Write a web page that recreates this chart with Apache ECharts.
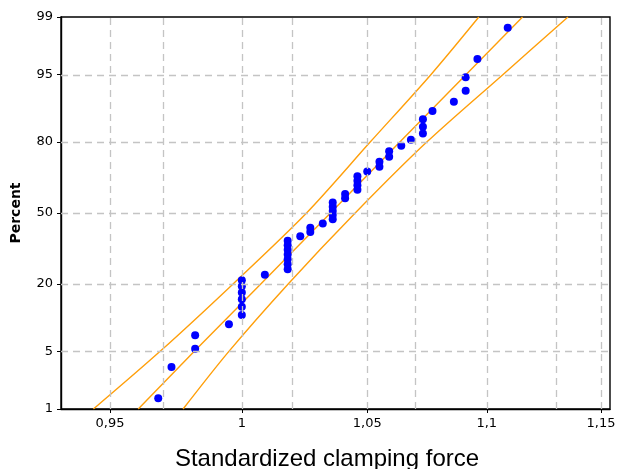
<!DOCTYPE html>
<html>
<head>
<meta charset="utf-8">
<script src="https://cdn.jsdelivr.net/npm/echarts@6/dist/echarts.min.js"></script>
<style>
  html, body { margin: 0; padding: 0; background: #fff; }
  #chart { width: 618px; height: 469px; }
</style>
</head>
<body>
<div id="chart"></div>
<script>
// data
const forceValues = [
  0.968, 0.973, 0.982, 0.982, 0.995,
  1.000, 1.000, 1.000, 1.000, 1.000, 1.000,
  1.009,
  1.018, 1.018, 1.018, 1.018, 1.018, 1.018, 1.018,
  1.023, 1.027, 1.027, 1.032,
  1.036, 1.036, 1.036, 1.036, 1.036,
  1.041, 1.041,
  1.046, 1.046, 1.046, 1.046,
  1.050, 1.055, 1.055, 1.059, 1.059,
  1.064, 1.068, 1.073, 1.073, 1.073,
  1.077, 1.086, 1.091, 1.091, 1.096, 1.109
];
const percentValues = [
  1.39, 3.37, 5.36, 7.34, 9.33,
  11.31, 13.29, 15.28, 17.26, 19.25, 21.23,
  23.21,
  25.20, 27.18, 29.17, 31.15, 33.13, 35.12, 37.10,
  39.09, 41.07, 43.06, 45.04,
  47.02, 49.01, 50.99, 52.98, 54.96,
  56.94, 58.93,
  60.91, 62.90, 64.88, 66.87,
  68.85, 70.83, 72.82, 74.80, 76.79,
  78.77, 80.75, 82.74, 84.72, 86.71,
  88.69, 90.67, 92.66, 94.64, 96.63, 98.61
];

// fitted line and confidence bands (read at the percent gridlines)
const bandPercents = [1, 5, 20, 50, 80, 95, 99];
const fitForce = [0.9605, 0.9816, 1.0074, 1.0351, 1.0634, 1.0912, 1.1154];
const lowerForce = [0.9439, 0.9686, 0.9966, 1.0255, 1.0512, 1.0764, 1.0966];
const upperForce = [0.9774, 0.9949, 1.0182, 1.0451, 1.0746, 1.1070, 1.1353];

// axes
const xTickValues = [0.95, 1, 1.05, 1.1, 1.15];
const xTickLabels = ['0,95', '1', '1,05', '1,1', '1,15'];
const xGridValues = [0.95, 0.975, 1, 1.025, 1.05, 1.075, 1.1, 1.125, 1.15];
const yTickPercents = [1, 5, 20, 50, 80, 95, 99];
const yGridPercents = [5, 20, 50, 80, 95];

// inverse normal (probability scale)
function probit(p) {
  const a = [-3.969683028665376e+01, 2.209460984245205e+02, -2.759285104469687e+02, 1.383577518672690e+02, -3.066479806614716e+01, 2.506628277459239e+00];
  const b = [-5.447609879822406e+01, 1.615858368580409e+02, -1.556989798598866e+02, 6.680131188771972e+01, -1.328068155288572e+01];
  const c = [-7.784894002430293e-03, -3.223964580411365e-01, -2.400758277161838e+00, -2.549732539343734e+00, 4.374664141464968e+00, 2.938163982698783e+00];
  const d = [7.784695709041462e-03, 3.224671290700398e-01, 2.445134137142996e+00, 3.754408611151701e+00];
  const pl = 0.02425;
  let q, r;
  if (p < pl) {
    q = Math.sqrt(-2 * Math.log(p));
    return (((((c[0]*q+c[1])*q+c[2])*q+c[3])*q+c[4])*q+c[5]) / ((((d[0]*q+d[1])*q+d[2])*q+d[3])*q+1);
  }
  if (p > 1 - pl) {
    q = Math.sqrt(-2 * Math.log(1 - p));
    return -(((((c[0]*q+c[1])*q+c[2])*q+c[3])*q+c[4])*q+c[5]) / ((((d[0]*q+d[1])*q+d[2])*q+d[3])*q+1);
  }
  q = p - 0.5;
  r = q * q;
  return (((((a[0]*r+a[1])*r+a[2])*r+a[3])*r+a[4])*r+a[5])*q / (((((b[0]*r+b[1])*r+b[2])*r+b[3])*r+b[4])*r+1);
}
const z = pct => probit(pct / 100);

document.addEventListener('DOMContentLoaded', function() {
  const chart = echarts.init(document.getElementById('chart'));

  const yTickZ = yTickPercents.map(z);
  const points = forceValues.map((v, i) => [v, z(percentValues[i])]);
  const bandLine = arr => arr.map((v, i) => [v, z(bandPercents[i])]);

  const gridStyle = { color: '#c4c4c4', width: 1.3, type: [7, 5] };
  const orange = { color: '#ff9f0a', width: 1.4 };

  const option = {
    animation: false,
    grid: {
      left: 61, right: 8, top: 17, bottom: 60,
      outerBoundsMode: 'none',
      containLabel: false,
      show: true, borderColor: '#000', borderWidth: 1.4, backgroundColor: 'transparent'
    },
    xAxis: {
      type: 'log',
      logBase: 10,
      min: 0.93206,
      max: 1.15402,
      name: 'Standardized clamping force',
      nameLocation: 'middle',
      nameGap: 38,
      nameTextStyle: { fontFamily: 'Liberation Sans', fontSize: 24, color: '#000', padding: [0, 17, 0, 0] },
      axisLine: { onZero: false, lineStyle: { color: '#000', width: 1.4 } },
      axisTick: { show: true, customValues: xTickValues, length: 4, lineStyle: { color: '#000' } },
      axisLabel: {
        customValues: xTickValues,
        margin: 8,
        fontFamily: 'DejaVu Sans', fontSize: 13, color: '#000',
        formatter: function(v) {
          let best = 0;
          xTickValues.forEach((t, i) => { if (Math.abs(t - v) < Math.abs(xTickValues[best] - v)) best = i; });
          return xTickLabels[best];
        }
      },
      splitLine: { show: false },
      minorTick: { show: false }
    },
    yAxis: {
      type: 'value',
      min: z(1),
      max: z(99),
      name: 'Percent',
      nameLocation: 'middle',
      nameGap: 38,
      nameRotate: 90,
      nameTextStyle: { fontFamily: 'DejaVu Sans', fontWeight: 'bold', fontSize: 14, color: '#000' },
      axisLine: { show: true, onZero: false, lineStyle: { color: '#000', width: 1.4 } },
      axisTick: { show: true, customValues: yTickZ, length: 4, lineStyle: { color: '#000' } },
      axisLabel: {
        customValues: yTickZ,
        margin: 8,
        fontFamily: 'DejaVu Sans', fontSize: 13, color: '#000',
        formatter: function(v) {
          let best = 0;
          yTickZ.forEach((t, i) => { if (Math.abs(t - v) < Math.abs(yTickZ[best] - v)) best = i; });
          return String(yTickPercents[best]);
        }
      },
      splitLine: { show: false }
    },
    series: [
      {
        type: 'line',
        data: [],
        silent: true,
        z: 1,
        markLine: {
          silent: true,
          symbol: 'none',
          label: { show: false },
          lineStyle: gridStyle,
          data: xGridValues.map(v => ({ xAxis: v }))
            .concat(yGridPercents.map(p => ({ yAxis: z(p) })))
        }
      },
      {
        name: 'lower',
        type: 'line',
        data: bandLine(lowerForce),
        showSymbol: false,
        smooth: 0.3,
        lineStyle: orange,
        z: 2
      },
      {
        name: 'fit',
        type: 'line',
        data: bandLine(fitForce),
        showSymbol: false,
        lineStyle: orange,
        z: 2
      },
      {
        name: 'upper',
        type: 'line',
        data: bandLine(upperForce),
        showSymbol: false,
        smooth: 0.3,
        lineStyle: orange,
        z: 2
      },
      {
        name: 'data',
        type: 'scatter',
        data: points,
        symbolSize: 8,
        itemStyle: { color: '#0000ff', opacity: 1 },
        z: 3
      }
    ]
  };
  chart.setOption(option);
});
</script>
</body>
</html>
